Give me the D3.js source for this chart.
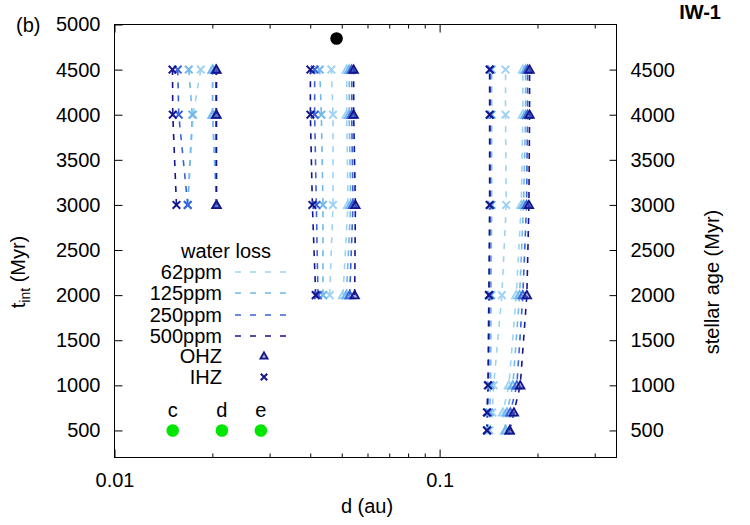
<!DOCTYPE html>
<html><head><meta charset="utf-8">
<script src="https://cdn.jsdelivr.net/npm/d3@7"></script>
<style>body{margin:0;background:#fff;} text{font-family:"Liberation Sans",Arial,sans-serif;}</style>
</head><body><svg id="c" width="750" height="525"></svg>
<script>
// ---------- data ----------
const waterLoss = ["62ppm", "125ppm", "250ppm", "500ppm"];
const yTicks = [500, 1000, 1500, 2000, 2500, 3000, 3500, 4000, 4500, 5000];
const y2Ticks = [500, 1000, 1500, 2000, 2500, 3000, 3500, 4000, 4500];
const xMajor = [0.01, 0.1];
const xMinor = [0.02, 0.03, 0.04, 0.05, 0.06, 0.07, 0.08, 0.09, 0.2, 0.3];

// cluster A
const timesA = [3000, 4000, 4500];
const ihzA = [
  [0.01680, 0.01745, 0.01842],
  [0.01680, 0.01735, 0.01692],
  [0.01680, 0.01576, 0.01565],
  [0.01551, 0.01511, 0.01508]
];
const ohzA = [
  [0.02059, 0.02001, 0.02001],
  [0.02059, 0.02005, 0.02005],
  [0.02059, 0.02050, 0.02050],
  [0.02059, 0.02059, 0.02059]
];
// cluster B
const timesB = [2000, 3000, 4000, 4500];
const ihzB = [
  [0.04590, 0.04699, 0.04699, 0.04646],
  [0.04377, 0.04377, 0.04328, 0.04277],
  [0.04225, 0.04177, 0.04127, 0.04127],
  [0.04157, 0.04061, 0.04004, 0.04004]
];
const ohzB = [
  [0.05043, 0.05226, 0.05178, 0.05178],
  [0.05167, 0.05327, 0.05271, 0.05271],
  [0.05289, 0.05415, 0.05365, 0.05365],
  [0.05480, 0.05507, 0.05441, 0.05441]
];
// cluster C
const timesC = [500, 700, 1000, 2000, 3000, 4000, 4500];
const ihzC = [
  [0.1425, 0.1452, 0.1466, 0.1554, 0.1603, 0.1595, 0.1595],
  [0.1405, 0.1425, 0.1435, 0.1440, 0.1445, 0.1445, 0.1445],
  [0.1400, 0.1405, 0.1414, 0.1425, 0.1430, 0.1430, 0.1430],
  [0.1398, 0.1398, 0.1408, 0.1417, 0.1425, 0.1425, 0.1425]
];
const ohzC = [
  [0.1595, 0.1565, 0.1633, 0.1721, 0.1783, 0.1803, 0.1803],
  [0.1595, 0.1610, 0.1680, 0.1762, 0.1812, 0.1838, 0.1838],
  [0.1642, 0.1650, 0.1728, 0.1803, 0.1851, 0.1864, 0.1864],
  [0.1642, 0.1692, 0.1770, 0.1855, 0.1882, 0.1891, 0.1891]
];
// planets
const planetNames = ["c", "d", "e"];
const planetD = [0.0151, 0.0214, 0.0282];
const planetT = [500, 500, 500];
const blackPt = [0.0482, 4845];

// ---------- style ----------
const seriesColors = ["#9fd3f1", "#72b8ea", "#3a63dc", "#16168c"];
const FS = 20;
const L = 114.5, R = 616.5, T = 24.5, B = 457.5;

const svg = d3.select("#c");
const x = d3.scaleLog().domain([0.01, 0.35]).range([L, R]);
const y = d3.scaleLinear().domain([200, 5000]).range([B, T]);

// axes
function styleAxis(g){ g.select(".domain").remove(); g.selectAll("line").attr("stroke","#000"); g.selectAll("text").attr("font-size",FS).attr("fill","#000").attr("font-family","Liberation Sans, Arial, sans-serif"); }
svg.append("g").attr("transform",`translate(${L},0)`)
  .call(d3.axisLeft(y).tickValues(yTicks).tickSizeInner(-8).tickSizeOuter(0).tickPadding(14).tickFormat(d3.format("d"))).call(styleAxis);
svg.append("g").attr("transform",`translate(${R},0)`)
  .call(d3.axisRight(y).tickValues(y2Ticks).tickSizeInner(-7).tickSizeOuter(0).tickPadding(14).tickFormat(d3.format("d"))).call(styleAxis);
svg.append("g").attr("transform",`translate(0,${B})`)
  .call(d3.axisBottom(x).tickValues(xMajor).tickSizeInner(-8).tickSizeOuter(0).tickPadding(15).tickFormat(d=>d===0.01?"0.01":"0.1")).call(styleAxis);
svg.append("g").attr("transform",`translate(0,${B})`)
  .call(d3.axisBottom(x).tickValues(xMinor).tickSizeInner(-4).tickSizeOuter(0).tickFormat("")).call(styleAxis);
svg.append("g").attr("transform",`translate(0,${T})`)
  .call(d3.axisTop(x).tickValues(xMajor).tickSizeInner(-8).tickSizeOuter(0).tickFormat("")).call(styleAxis);
svg.append("g").attr("transform",`translate(0,${T})`)
  .call(d3.axisTop(x).tickValues(xMinor).tickSizeInner(-4).tickSizeOuter(0).tickFormat("")).call(styleAxis);

svg.append("rect").attr("x",L).attr("y",T).attr("width",R-L).attr("height",B-T)
  .attr("fill","none").attr("stroke","#000").attr("stroke-width",1);

// series
const clusters = [[timesA, ihzA, ohzA], [timesB, ihzB, ohzB], [timesC, ihzC, ohzC]];
const line = d3.line().x(d=>x(d[0])).y(d=>y(d[1]));
const gLines = svg.append("g"), gMarks = svg.append("g");
function cross(g, cx, cy, col, s){
  s = s || 3.8;
  g.append("path").attr("d",`M${cx-s},${cy-s}L${cx+s},${cy+s}M${cx-s},${cy+s}L${cx+s},${cy-s}`)
    .attr("stroke",col).attr("stroke-width",2).attr("fill","none");
}
function tri(g, cx, cy, col, s){
  s = s || 4.2;
  g.append("path").attr("d",`M${cx},${cy-s}L${cx+s},${cy+s*0.75}L${cx-s},${cy+s*0.75}Z`)
    .attr("stroke",col).attr("stroke-width",1.8).attr("fill",col).attr("fill-opacity",0.35);
}
waterLoss.forEach((wl, i) => {
  const col = seriesColors[i];
  clusters.forEach(([times, ihz, ohz]) => {
    [ihz[i], ohz[i]].forEach(vals => {
      const pts = times.map((t,k)=>[vals[k], t]);
      gLines.append("path").attr("d", line(pts)).attr("fill","none").attr("stroke",col)
        .attr("stroke-width",1.6).attr("stroke-dasharray","6,7");
    });
  });
});
waterLoss.forEach((wl, i) => {
  const col = seriesColors[i];
  clusters.forEach(([times, ihz, ohz]) => {
    times.forEach((t,k)=>{ cross(gMarks, x(ihz[i][k]), y(t), col); tri(gMarks, x(ohz[i][k]), y(t), col); });
  });
});

// planets
planetNames.forEach((n,i)=>{
  svg.append("circle").attr("cx",x(planetD[i])).attr("cy",y(planetT[i])).attr("r",6.3).attr("fill","#00e600");
  svg.append("text").attr("x",x(planetD[i])).attr("y",417).attr("text-anchor","middle")
    .attr("font-size",FS).text(n);
});
svg.append("circle").attr("cx",x(blackPt[0])).attr("cy",y(blackPt[1])).attr("r",6.3).attr("fill","#000");

// legend
const lg = svg.append("g");
lg.append("text").attr("x",226).attr("y",258).attr("text-anchor","middle").attr("font-size",FS).text("water loss");
const rowY = [279, 300, 322, 343, 363, 384];
waterLoss.forEach((wl,i)=>{
  lg.append("text").attr("x",222).attr("y",rowY[i]).attr("text-anchor","end").attr("font-size",FS).text(wl);
  lg.append("line").attr("x1",235).attr("x2",290).attr("y1",rowY[i]-7).attr("y2",rowY[i]-7)
    .attr("stroke",seriesColors[i]).attr("stroke-width",1.6).attr("stroke-dasharray","6,9");
});
lg.append("text").attr("x",222).attr("y",rowY[4]).attr("text-anchor","end").attr("font-size",FS).text("OHZ");
tri(lg, 264, rowY[4]-7, "#16168c", 3.6);
lg.append("text").attr("x",222).attr("y",rowY[5]).attr("text-anchor","end").attr("font-size",FS).text("IHZ");
cross(lg, 264, rowY[5]-7, "#16168c", 3.2);

// titles
svg.append("text").attr("x",16).attr("y",32).attr("font-size",FS).text("(b)");
svg.append("text").attr("x",721).attr("y",19).attr("text-anchor","end").attr("font-size",FS).attr("font-weight","bold").text("IW-1");
svg.append("text").attr("x",367).attr("y",513).attr("text-anchor","middle").attr("font-size",FS).text("d (au)");
const yt = svg.append("text").attr("transform","translate(25,272) rotate(-90)").attr("text-anchor","middle").attr("font-size",FS);
yt.append("tspan").text("t");
yt.append("tspan").attr("font-size",14).attr("dy",5).text("int");
yt.append("tspan").attr("dy",-5).text(" (Myr)");
svg.append("text").attr("transform","translate(719,282) rotate(-90)").attr("text-anchor","middle").attr("font-size",FS).text("stellar age (Myr)");
</script></body></html>
